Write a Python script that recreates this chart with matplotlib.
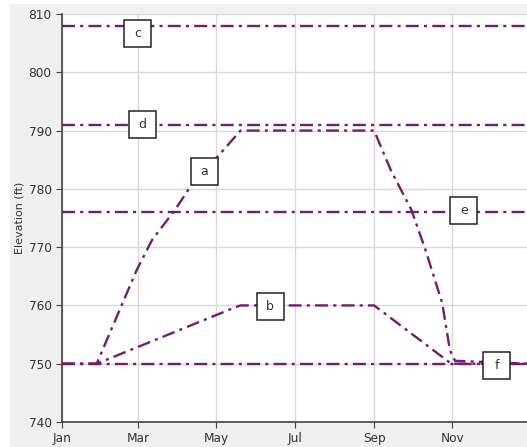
import matplotlib
matplotlib.use("Agg")
import matplotlib.pyplot as plt
import matplotlib.transforms as mtransforms
from matplotlib.patches import Rectangle

# day-of-year positions for month ticks
month_days = [0, 59, 120, 181, 243, 304]
month_labels = ["Jan", "Mar", "May", "Jul", "Sep", "Nov"]

# curve a
a_days = [0, 27, 46, 58, 70, 88, 100, 121, 139, 243, 256, 272, 283, 296, 302, 306, 362]
a_elev = [750, 750, 759.8, 766, 771.2, 776.4, 780.4, 785.5, 790, 790, 783.2, 776.4,
          769.5, 760.4, 752.3, 750.5, 750]

# curve b
b_days = [0, 27, 134, 139, 243, 303, 362]
b_elev = [750, 750, 759.6, 760, 760, 750, 750]

# constant levels c, d, e, f
levels = [808, 791, 776, 750]

# label boxes
label_text = ["c", "d", "a", "b", "e", "f"]
label_days = [58.8, 62.4, 110.7, 162, 312.8, 338.5]
label_elev = [806.7, 791.1, 782.9, 759.9, 776.3, 749.7]

color = "#721d70"
dash = (0, (5.5, 2.2, 1.3, 2.2))

fig = plt.figure(figsize=(5.27, 4.47), dpi=100, facecolor="white")
fig.patches.append(Rectangle((10 / 527, 0), 1, 1 - 4 / 447, transform=fig.transFigure,
                             facecolor="#f0f0f0", edgecolor="none", zorder=-10))
ax = fig.add_axes([62 / 527, 25 / 447, 1 - 62 / 527, (422 - 14) / 447])
ax.set_facecolor("white")

for lv in levels:
    ax.axhline(lv, color=color, lw=1.7, linestyle=dash, zorder=3)
ax.plot(a_days, a_elev, color=color, lw=1.7, linestyle=dash, zorder=3)
ax.plot(b_days, b_elev, color=color, lw=1.7, linestyle=dash, zorder=3)

ax.set_xlim(0, 362)
ax.set_ylim(740, 810)
ax.set_xticks(month_days)
ax.set_xticklabels(month_labels)
ax.set_yticks(range(740, 811, 10))
ax.grid(True, color="#d9d9d9", lw=1)
ax.set_axisbelow(True)
ax.tick_params(direction="out", length=4, colors="#444444", labelsize=8.7,
               labelcolor="#333333")
for s in ["top", "right"]:
    ax.spines[s].set_visible(False)
for s in ["left", "bottom"]:
    ax.spines[s].set_color("#444444")
    ax.spines[s].set_linewidth(1.2)
ax.set_ylabel("Elevation (ft)", fontsize=8, color="#333333", labelpad=3)

w, h = 0.27, 0.27
for t, d, e in zip(label_text, label_days, label_elev):
    trans = fig.dpi_scale_trans + mtransforms.ScaledTranslation(d, e, ax.transData)
    ax.add_patch(Rectangle((-w / 2, -h / 2), w, h, transform=trans, facecolor="white",
                           edgecolor="#222222", lw=1.1, zorder=5, clip_on=False))
    ax.text(d, e, t, ha="center", va="center", fontsize=9, color="#333333", zorder=6)

fig.savefig("out.png", dpi=100, facecolor=fig.get_facecolor())
